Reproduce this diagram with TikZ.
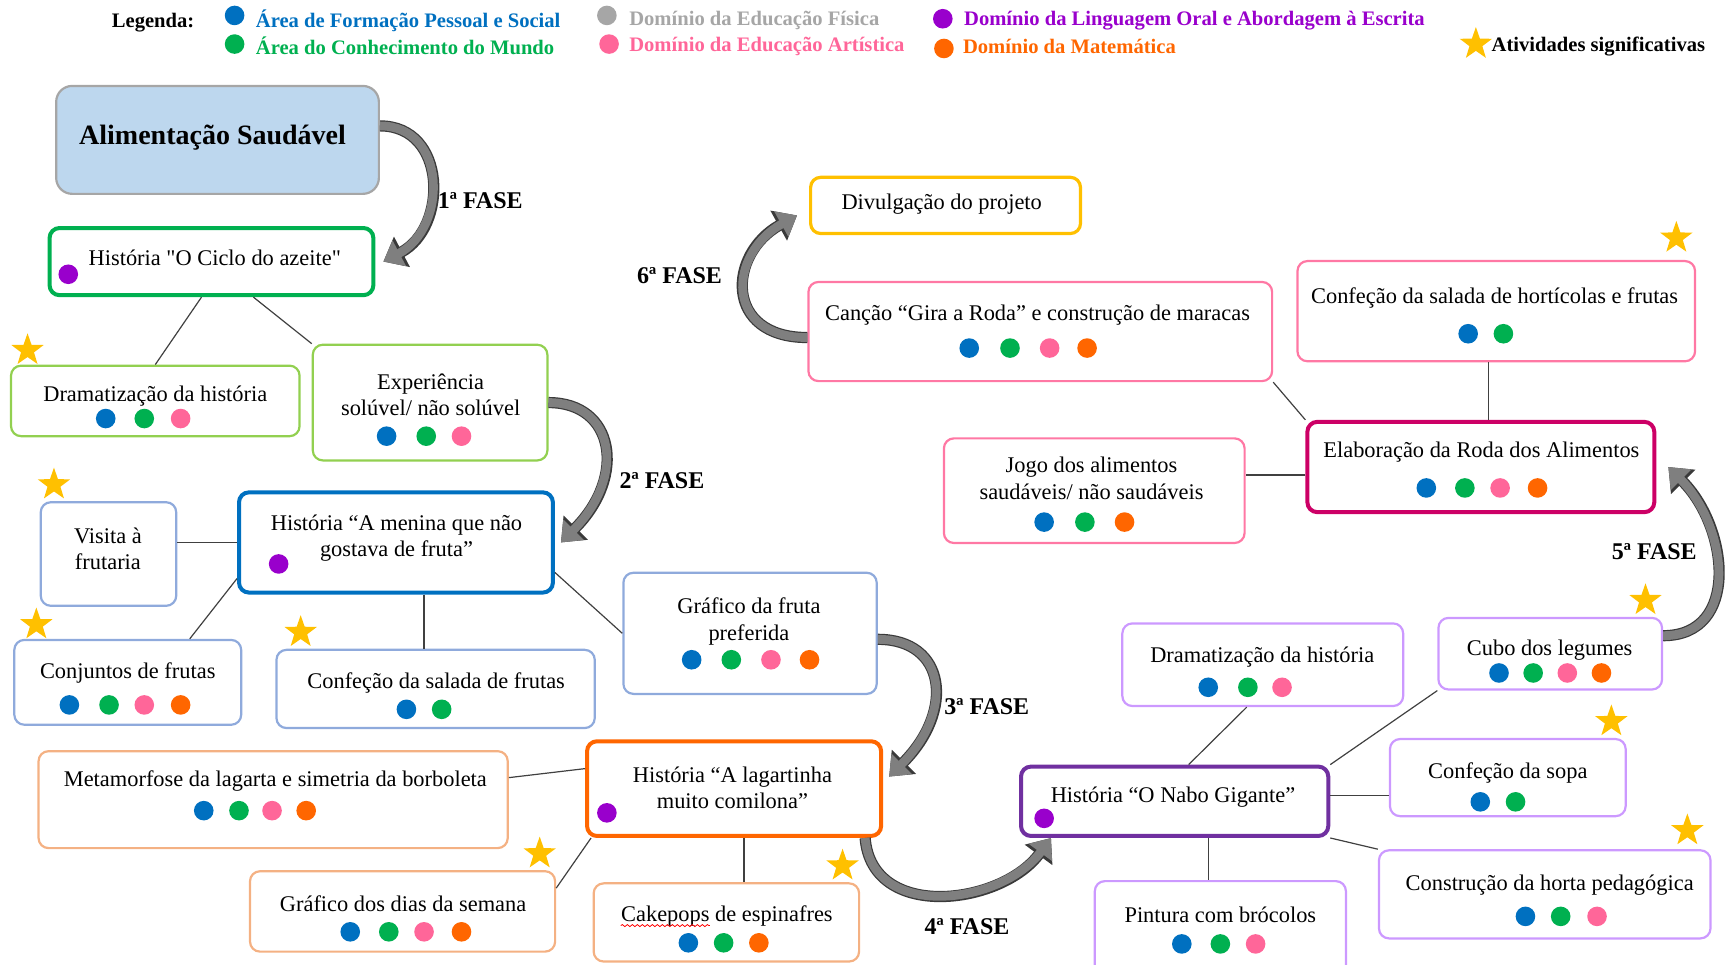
\documentclass[tikz,border=0pt]{standalone}
\usepackage{fontspec}
\setmainfont{Liberation Serif}
\usetikzlibrary{shapes.geometric, positioning, arrows.meta, fit}
\usetikzlibrary{decorations.pathmorphing}
\definecolor{fps}{HTML}{0070C0}
\definecolor{cm}{HTML}{00B050}
\definecolor{ef}{HTML}{A6A6A6}
\definecolor{art}{HTML}{FF6699}
\definecolor{lin}{HTML}{9900CC}
\definecolor{mat}{HTML}{FF6600}
\definecolor{gold}{HTML}{FFC000}
\definecolor{alimfill}{HTML}{BDD7EE}
\definecolor{lgreen}{HTML}{92D050}
\definecolor{lblue}{HTML}{8FAADC}
\definecolor{lorange}{HTML}{F4B183}
\definecolor{lavender}{HTML}{CC99FF}
\definecolor{nabo}{HTML}{7030A0}
\definecolor{roda}{HTML}{CC0066}
\definecolor{lpink}{HTML}{FF78A4}
\definecolor{arrowgray}{HTML}{7F7F7F}
\definecolor{arrowdark}{HTML}{3A3A3A}
\newcommand{\strq}{\XeTeXglyph\XeTeXcharglyph"22\relax}
\tikzset{
    box/.style = {draw=#1, rounded corners=5pt, line width=1.1pt, inner sep=0pt},
    thick box/.style = {box=#1, line width=2pt},
    txt/.style = {font=\fontsize{11.2}{13.2}\selectfont, align=center, inner sep=0pt, yshift=-1.3pt},
    cdot/.style = {circle, fill=#1, minimum size=9.8pt, inner sep=0pt},
    sig/.style = {star, star points=5, star point ratio=2.5, fill=gold, minimum size=17pt, inner sep=0pt},
    link/.style = {draw=black!75, line width=0.6pt},
    fase/.style = {font=\bfseries\fontsize{12}{14}\selectfont, inner sep=0pt, yshift=-0.8pt},
    leg/.style = {font=\bfseries\fontsize{10.3}{12}\selectfont, anchor=west, inner sep=0pt, text=#1, yshift=-1pt},
}
\tikzset{
    phase/.style = {draw=arrowgray, line width=4.4pt, -{Triangle[length=9pt, width=14pt]},
        preaction={draw=arrowdark, line width=5.6pt, -{Triangle[length=10.5pt, width=16.5pt]}}},
}
\begin{document}
\begin{tikzpicture}[x=0.5507pt, y=-0.5507pt]
	\useasboundingbox (0,0) rectangle (1568,876);
	\clip (0,0) rectangle (1568,876);

	\node[font=\bfseries\fontsize{10.3}{12}\selectfont, inner sep=0pt, yshift=-1pt] (legenda) at (139,19) {Legenda:};
	\node[cdot=fps] (l-fps) at (213,14) {};
	\node[cdot=cm] (l-cm) at (213,40) {};
	\node[cdot=ef] (l-ef) at (551,14) {};
	\node[cdot=art] (l-art) at (553,40) {};
	\node[cdot=lin] (l-lin) at (856,17) {};
	\node[cdot=mat] (l-mat) at (857,44) {};
	\node[sig] (l-sig) at (1340,40) {};
	\node[leg=fps] (t-fps) at (232,17) {Área de Formação Pessoal e Social};
	\node[leg=cm] (t-cm) at (232,40) {Área do Conhecimento do Mundo};
	\node[leg=ef] (t-ef) at (571,17) {Domínio da Educação Física};
	\node[leg=art] (t-art) at (571,40) {Domínio da Educação Artística};
	\node[leg=lin] (t-lin) at (875,17) {Domínio da Linguagem Oral e Abordagem à Escrita};
	\node[leg=mat] (t-mat) at (874,40) {Domínio da Matemática};
	\node[leg=black] (t-sig) at (1354,40) {Atividades significativas};

	\node[box=black!35, fill=alimfill, rounded corners=8pt, fit={(51,78) (344,176)}] (alim) {};
	\node[font=\bfseries\fontsize{14}{16}\selectfont, inner sep=0pt, yshift=-1.5pt] (alim-t) at (193,122) {Alimentação Saudável};

	\node[thick box=cm, fit={(45,207) (339,268)}] (ciclo) {};
	\node[txt] (ciclo-t) at (195,232) {História \strq O Ciclo do azeite\strq};
	\node[cdot=lin] (ciclo-d) at (62,249) {};

	\node[box=lgreen, fit={(10,332) (272,396)}] (drama1) {};
	\node[txt] (drama1-t) at (141,357) {Dramatização da história};
	\foreach \x/\c [count=\i] in {96/fps,131/cm,164/art}
		\node[cdot=\c] (drama1-d\i) at (\x,380) {};

	\node[box=lgreen, fit={(284,313) (497,418)}] (exp) {};
	\node[txt] (exp-t) at (391,356) {Experiência\\solúvel/ não solúvel};
	\foreach \x/\c [count=\i] in {351/fps,387/cm,419/art}
		\node[cdot=\c] (exp-d\i) at (\x,396) {};

	\node[thick box=fps, fit={(217,447) (502,538)}] (menina) {};
	\node[txt] (menina-t) at (360,486) {História “A menina que não\\gostava de fruta”};
	\node[cdot=lin] (menina-d) at (253,512) {};

	\node[box=lblue, fit={(37,456) (160,550)}] (visita) {};
	\node[txt] (visita-t) at (98,496) {Visita à\\frutaria};

	\node[box=lblue, fit={(13,581) (219,658)}] (conj) {};
	\node[txt] (conj-t) at (116,609) {Conjuntos de frutas};
	\foreach \x/\c [count=\i] in {63/fps,99/cm,131/art,164/mat}
		\node[cdot=\c] (conj-d\i) at (\x,640) {};

	\node[box=lblue, fit={(251,590) (540,661)}] (salfr) {};
	\node[txt] (salfr-t) at (396,618) {Confeção da salada de frutas};
	\foreach \x/\c [count=\i] in {369/fps,401/cm}
		\node[cdot=\c] (salfr-d\i) at (\x,644) {};

	\node[box=lblue, fit={(566,520) (796,630)}] (graffr) {};
	\node[txt] (graffr-t) at (680,562) {Gráfico da fruta\\preferida};
	\foreach \x/\c [count=\i] in {628/fps,664/cm,700/art,735/mat}
		\node[cdot=\c] (graffr-d\i) at (\x,599) {};

	\node[thick box=mat, fit={(533,673) (800,759)}] (lag) {};
	\node[txt] (lag-t) at (665,713) {História “A lagartinha\\muito comilona”};
	\node[cdot=lin] (lag-d) at (551,738) {};

	\node[box=lorange, fit={(35,682) (461,770)}] (meta) {};
	\node[txt] (meta-t) at (250,707) {Metamorfose da lagarta e simetria da borboleta};
	\foreach \x/\c [count=\i] in {185/fps,217/cm,247/art,278/mat}
		\node[cdot=\c] (meta-d\i) at (\x,736) {};

	\node[box=lorange, fit={(227,791) (504,864)}] (grafd) {};
	\node[txt] (grafd-t) at (366,818) {Gráfico dos dias da semana};
	\foreach \x/\c [count=\i] in {318/fps,353/cm,385/art,419/mat}
		\node[cdot=\c] (grafd-d\i) at (\x,846) {};

	\node[box=lorange, fit={(539,802) (780,873)}] (cake) {};
	\node[txt] (cake-t) at (660,829) {Cakepops de espinafres};
	\foreach \x/\c [count=\i] in {625/fps,657/cm,689/mat}
		\node[cdot=\c] (cake-d\i) at (\x,856) {};
	\draw[red, line width=0.4pt, decorate, decoration={snake, amplitude=0.5pt, segment length=2.5pt}]
		([yshift=-2.2pt]cake-t.base west) -- ++(44.5pt,0);

	\node[thick box=nabo, fit={(927,696) (1206,759)}] (nabo) {};
	\node[txt] (nabo-t) at (1065,721) {História “O Nabo Gigante”};
	\node[cdot=lin] (nabo-d) at (948,743) {};

	\node[box=lavender, fit={(1019,566) (1274,641)}] (drama2) {};
	\node[txt] (drama2-t) at (1146,594) {Dramatização da história};
	\foreach \x/\c [count=\i] in {1097/fps,1133/cm,1164/art}
		\node[cdot=\c] (drama2-d\i) at (\x,624) {};

	\node[box=lavender, fit={(1306,561) (1509,626)}] (cubo) {};
	\node[txt] (cubo-t) at (1407,588) {Cubo dos legumes};
	\foreach \x/\c [count=\i] in {1361/fps,1392/cm,1423/art,1454/mat}
		\node[cdot=\c] (cubo-d\i) at (\x,611) {};

	\node[box=lavender, fit={(1262,671) (1476,741)}] (sopa) {};
	\node[txt] (sopa-t) at (1369,699) {Confeção da sopa};
	\foreach \x/\c [count=\i] in {1344/fps,1376/cm}
		\node[cdot=\c] (sopa-d\i) at (\x,728) {};

	\node[box=lavender, fit={(1252,772) (1553,852)}] (horta) {};
	\node[txt] (horta-t) at (1407,801) {Construção da horta pedagógica};
	\foreach \x/\c [count=\i] in {1385/fps,1417/cm,1450/art}
		\node[cdot=\c] (horta-d\i) at (\x,832) {};

	\node[box=lavender, fit={(994,800) (1222,886)}] (pint) {};
	\node[txt] (pint-t) at (1108,828) {Pintura com brócolos};
	\foreach \x/\c [count=\i] in {1073/fps,1108/cm,1140/art}
		\node[cdot=\c] (pint-d\i) at (\x,857) {};

	\node[thick box=roda, fit={(1187,383) (1502,465)}] (roda) {};
	\node[txt] (roda-t) at (1345,408) {Elaboração da Roda dos Alimentos};
	\foreach \x/\c [count=\i] in {1295/fps,1330/cm,1362/art,1396/mat}
		\node[cdot=\c] (roda-d\i) at (\x,443) {};

	\node[box=lpink, fit={(857,398) (1130,493)}] (jogo) {};
	\node[txt] (jogo-t) at (991,432) {Jogo dos alimentos\\saudáveis/ não saudáveis};
	\foreach \x/\c [count=\i] in {948/fps,985/cm,1021/mat}
		\node[cdot=\c] (jogo-d\i) at (\x,474) {};

	\node[box=lpink, fit={(734,256) (1155,346)}] (canc) {};
	\node[txt] (canc-t) at (942,284) {Canção “Gira a Roda” e construção de maracas};
	\foreach \x/\c [count=\i] in {880/fps,917/cm,953/art,987/mat}
		\node[cdot=\c] (canc-d\i) at (\x,316) {};

	\node[box=lpink, fit={(1178,237) (1539,328)}] (salh) {};
	\node[txt] (salh-t) at (1357,268) {Confeção da salada de hortícolas e frutas};
	\foreach \x/\c [count=\i] in {1333/fps,1365/cm}
		\node[cdot=\c] (salh-d\i) at (\x,303) {};

	\node[box=gold, line width=1.6pt, fit={(736,161) (981,212)}] (div) {};
	\node[txt] (div-t) at (855,183) {Divulgação do projeto};

	\node[sig] (s1) at (25,318) {};
	\node[sig] (s2) at (49,440) {};
	\node[sig] (s3) at (33,567) {};
	\node[sig] (s4) at (273,574) {};
	\node[sig] (s5) at (490,775) {};
	\node[sig] (s6) at (765,786) {};
	\node[sig] (s7) at (1494,545) {};
	\node[sig] (s8) at (1463,655) {};
	\node[sig] (s9) at (1532,754) {};
	\node[sig] (s10) at (1522,216) {};

	\draw[link] ([xshift=-5pt]ciclo.south) -- (drama1.north);
	\draw[link] ([xshift=21pt]ciclo.south) -- (exp.north west);
	\draw[link] (menina.west) -- (menina.west -| visita.east);
	\draw[link] ([yshift=8pt]menina.south west) -- ([xshift=31pt]conj.north);
	\draw[link] ([xshift=14pt]menina.south) -- ([xshift=14pt]menina.south |- salfr.north);
	\draw[link] ([yshift=-15pt]menina.east) -- (graffr.west);
	\draw[link] ([yshift=11pt]meta.east) -- ([yshift=10pt]lag.west);
	\draw[link] ([xshift=3pt]lag.south west) -- ([yshift=-9pt]grafd.north east);
	\draw[link] ([xshift=5pt]lag.south) -- ([xshift=5pt]lag.south |- cake.north);
	\draw[link] ([xshift=7pt]nabo.north) -- ([xshift=-8pt]drama2.south);
	\draw[link] (nabo.north east) -- (cubo.south west);
	\draw[link] ([yshift=3pt]nabo.east) -- ([yshift=3pt]nabo.east -| sopa.west);
	\draw[link] (nabo.south east) -- (horta.north west);
	\draw[link] ([xshift=17pt]nabo.south) -- ([xshift=17pt]nabo.south |- pint.north);
	\draw[link] (canc.south east) -- (roda.north west);
	\draw[link] ([xshift=4pt]roda.north) -- ([xshift=4pt]roda.north |- salh.south);
	\draw[link] ([yshift=-4pt]roda.west) -- ([yshift=-4pt]roda.west -| jogo.east);

	\draw[phase] ([yshift=7pt]alim.east) .. controls +(61,0) and +(59,-31) .. ([xshift=4pt]ciclo.east);
	\draw[phase] (exp.east) .. controls +(60,0) and +(60,-60) .. ([xshift=3pt]menina.east);
	\draw[phase] ([yshift=-3pt]graffr.east) .. controls +(62,0) and +(60,-60) .. ([xshift=3pt,yshift=6pt]lag.east);
	\draw[phase] ([xshift=-9pt]lag.south east) .. controls +(6,76) and +(-45,61) .. ([xshift=16pt]nabo.south west);
	\draw[phase] ([yshift=9pt]cubo.east) .. controls +(70,0) and +(55,55) .. ([xshift=6pt]roda.east);
	\draw[phase] ([yshift=-3pt]canc.west) .. controls +(-76,0) and +(-63,35) .. ([xshift=-6pt,yshift=-5pt]div.west);

	\node[fase] (f1) at (436,181) {1ª FASE};
	\node[fase] (f2) at (601,435) {2ª FASE};
	\node[fase] (f3) at (896,640) {3ª FASE};
	\node[fase] (f4) at (878,840) {4ª FASE};
	\node[fase] (f5) at (1502,499) {5ª FASE};
	\node[fase] (f6) at (617,249) {6ª FASE};
\end{tikzpicture}
\end{document}
